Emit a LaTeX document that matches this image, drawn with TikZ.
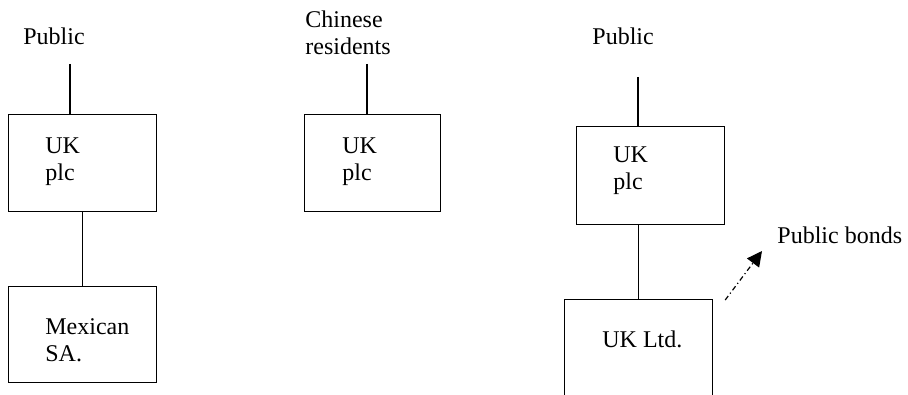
\documentclass[tikz,border=0pt]{standalone}
\usepackage{fontspec}
\setmainfont{Liberation Serif}
\usepackage{tikz}
\usetikzlibrary{arrows.meta,positioning}

\begin{document}
\begin{tikzpicture}[x=0.5pt,y=-0.5pt,font=\fontsize{12pt}{13.5pt}\selectfont]

\tikzset{firm/.style={draw,line width=0.6pt,anchor=north west,inner sep=0pt,minimum width=74pt},
         tag/.style={anchor=north west,inner sep=0pt,align=left},
         link/.style={line width=0.6pt},
         bonds/.style={line width=0.6pt,dash pattern=on 2.5pt off 1.5pt on 0.6pt off 1.5pt,
                       -{Triangle[length=7.5pt,width=7.5pt]}}}

\useasboundingbox (0,0) rectangle (908,395);
\clip (0,0) rectangle (908,395);

% left: UK plc owning Mexican SA.
\node[tag] (pubA) at (23,27) {Public};
\node[firm,minimum height=48.5pt] (plcA) at (8,114) {};
\node[tag] (plcA-t) at (45,137) {UK\\plc};
\node[firm,minimum height=48pt] (saA) at (8,286) {};
\node[tag] (saA-t) at (45,318) {Mexican\\SA.};
\coordinate (pubA-end) at (70,64);
\draw[link] (pubA-end) -- (pubA-end |- plcA.north);
\draw[link] (plcA.south) -- (saA.north);

% middle: UK plc held by Chinese residents
\node[tag] (chnB) at (305,10) {Chinese\\residents};
\node[firm,minimum width=68pt,minimum height=48.5pt] (plcB) at (304,114) {};
\node[tag] (plcB-t) at (342,137) {UK\\plc};
\coordinate (chnB-end) at (367,64);
\draw[link] (chnB-end) -- (chnB-end |- plcB.north);

% right: UK plc, UK Ltd. and the bonds
\node[tag] (pubC) at (592,27) {Public};
\node[firm,minimum height=49pt] (plcC) at (576,126) {};
\node[tag] (plcC-t) at (613,146) {UK\\plc};
\node[firm,minimum height=60pt] (ltdC) at (564,299) {};
\node[tag] (ltdC-t) at (602,330) {UK Ltd.};
\node[tag] (bndC) at (777,226) {Public bonds};
\coordinate (pubC-end) at (638,77);
\coordinate (bndC-tip) at (762,251);
\draw[link] (pubC-end) -- (pubC-end |- plcC.north);
\draw[link] (plcC.south -| ltdC.north) -- (ltdC.north);
\draw[bonds] ([xshift=6pt,yshift=-0.5pt]ltdC.north east) -- (bndC-tip);

\end{tikzpicture}
\end{document}
